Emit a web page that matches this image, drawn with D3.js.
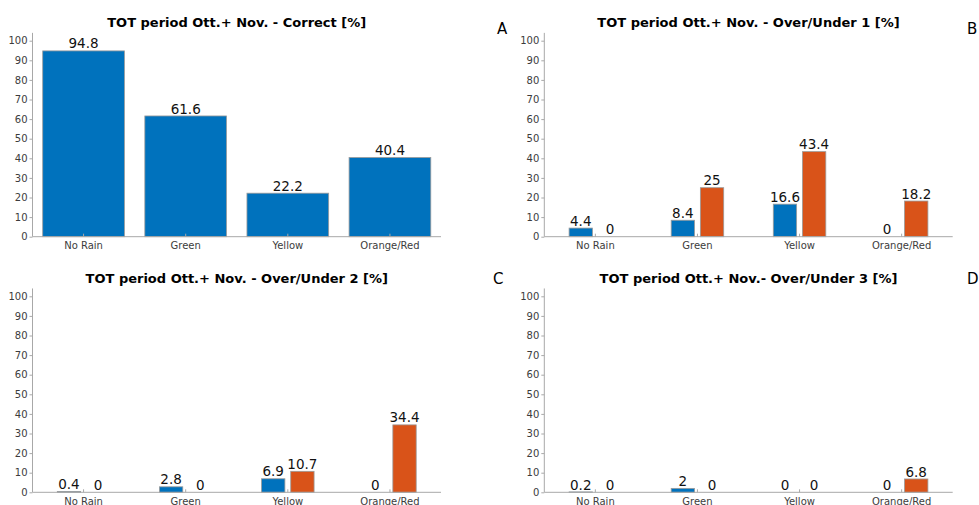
<!DOCTYPE html>
<html>
<head>
<meta charset="utf-8">
<script src="https://cdn.jsdelivr.net/npm/d3@7"></script>
<style>
  html, body { margin: 0; padding: 0; background: #fff; }
  svg { display: block; }
  text { font-family: "DejaVu Sans", sans-serif; }
</style>
</head>
<body>
<svg id="chart" width="979" height="505"></svg>
<script>
// ---- data ----
const categories = ["No Rain", "Green", "Yellow", "Orange/Red"];
const yTicks = [0, 10, 20, 30, 40, 50, 60, 70, 80, 90, 100];

const titles = [
  "TOT period Ott.+ Nov. - Correct [%]",
  "TOT period Ott.+ Nov. - Over/Under 1 [%]",
  "TOT period Ott.+ Nov. - Over/Under 2 [%]",
  "TOT period Ott.+ Nov.- Over/Under 3 [%]"
];
const panelLetters = ["A", "B", "C", "D"];

const correct = [94.8, 61.6, 22.2, 40.4];
const over1Under = [4.4, 8.4, 16.6, 0];
const over1Over  = [0, 25, 43.4, 18.2];
const over2Under = [0.4, 2.8, 6.9, 0];
const over2Over  = [0, 0, 10.7, 34.4];
const over3Under = [0.2, 2, 0, 0];
const over3Over  = [0, 0, 0, 6.8];

const panelSeries = [
  [correct],
  [over1Under, over1Over],
  [over2Under, over2Over],
  [over3Under, over3Over]
];

// ---- layout ----
const colors = ["#0072BD", "#D95319"];
const svg = d3.select("#chart");

const panels = [
  { left: 32.5,  right: 441,   bottom: 236.7, letterX: 497, letterY: 34 },
  { left: 544.3, right: 952.7, bottom: 236.7, letterX: 967, letterY: 34 },
  { left: 32.5,  right: 441,   bottom: 492.3, letterX: 493, letterY: 284 },
  { left: 544.3, right: 952.7, bottom: 492.3, letterX: 967, letterY: 284 }
];

panels.forEach((p, i) => {
  const yMax = 104;
  const unit = 1.96; // px per %
  const top = p.bottom - yMax * unit;
  const g = svg.append("g");

  const x = d3.scaleBand().domain(categories).range([p.left, p.right]).paddingInner(0).paddingOuter(0);
  const y = d3.scaleLinear().domain([0, yMax]).range([p.bottom, top]);

  const series = panelSeries[i];
  const nSer = series.length;
  let groupW, barW;
  if (nSer === 1) { groupW = 0.8; barW = 0.8; }
  else { groupW = Math.min(0.8, nSer / (nSer + 1.5)); barW = groupW / nSer * 0.8; }
  const bw = x.bandwidth();

  series.forEach((vals, s) => {
    const offset = nSer === 1 ? 0 : (-groupW / 2 + groupW / nSer * (s + 0.5));
    const cx = c => x(c) + bw / 2 + offset * bw;
    g.selectAll(null).data(categories).enter().append("rect")
      .attr("x", c => cx(c) - barW * bw / 2)
      .attr("width", barW * bw)
      .attr("y", (c, k) => y(vals[k]))
      .attr("height", (c, k) => y(0) - y(vals[k]))
      .attr("fill", colors[s])
      .attr("stroke", "#9a9a9a")
      .attr("stroke-width", 0.8);
    g.selectAll(null).data(categories).enter().append("text")
      .attr("x", c => cx(c))
      .attr("y", (c, k) => y(vals[k]) - 2.4)
      .attr("text-anchor", "middle")
      .attr("font-size", 13.5)
      .attr("fill", "#111")
      .text((c, k) => String(vals[k]));
  });

  // y axis
  const yAxis = d3.axisLeft(y).tickValues(yTicks).tickSize(3).tickPadding(2).tickFormat(d3.format("d"));
  const ya = g.append("g").attr("transform", `translate(${p.left},0)`).call(yAxis);
  ya.select(".domain").attr("stroke", "#a8a8a8").attr("d", `M-0,${top}V${p.bottom}`);
  ya.selectAll(".tick line").attr("stroke", "#a8a8a8");
  ya.selectAll(".tick text").attr("font-size", 10).attr("fill", "#3c3c3c")
    .attr("font-family", "DejaVu Sans, sans-serif");

  // x axis
  const xAxis = d3.axisBottom(x).tickSize(0).tickPadding(5.6);
  const xa = g.append("g").attr("transform", `translate(0,${p.bottom})`).call(xAxis);
  xa.select(".domain").attr("stroke", "#a8a8a8").attr("d", `M${p.left},0H${p.right}`);
  xa.selectAll(".tick text").attr("font-size", 10).attr("fill", "#3c3c3c")
    .attr("font-family", "DejaVu Sans, sans-serif").attr("dy", "0.71em");
  xa.selectAll(".tick").append("line").attr("y1", 0).attr("y2", -3).attr("stroke", "#a8a8a8");

  // title
  g.append("text")
    .attr("x", (p.left + p.right) / 2)
    .attr("y", p.bottom - 209.5)
    .attr("text-anchor", "middle")
    .attr("font-size", 13)
    .attr("font-weight", "bold")
    .attr("fill", "#000")
    .text(titles[i]);

  // letter
  svg.append("text")
    .attr("x", p.letterX)
    .attr("y", p.letterY)
    .attr("font-size", 15)
    .attr("fill", "#000")
    .text(panelLetters[i]);
});
</script>
</body>
</html>
